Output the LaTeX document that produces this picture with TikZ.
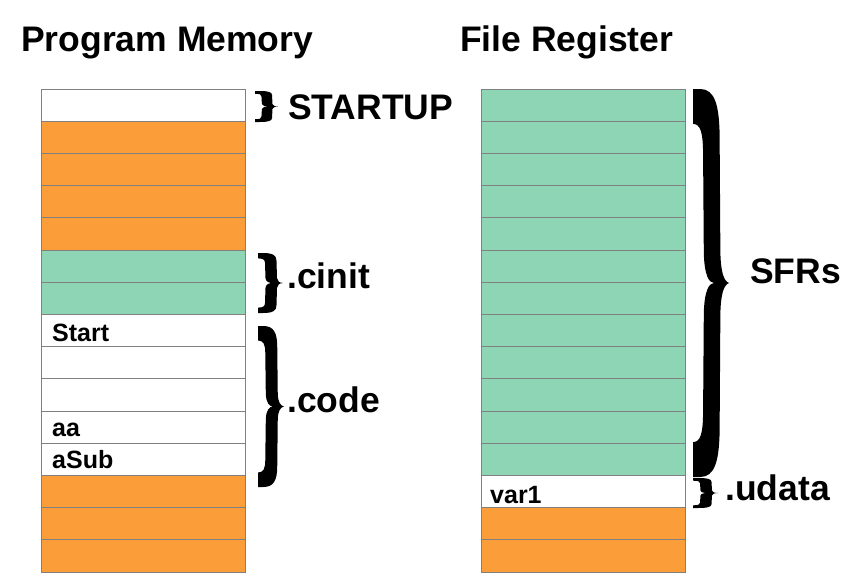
\documentclass[tikz,border=0pt]{standalone}
\usepackage{fontspec}
\setmainfont{Liberation Sans}
\definecolor{memorange}{RGB}{251,157,57}
\definecolor{memgreen}{RGB}{141,213,180}
\definecolor{memline}{RGB}{128,128,128}
\newcommand\membrace[4]{%
  \begin{scope}[shift={(#1,#2)}, xscale=#4, yscale={#3-#2}]
    \fill[black] (0,0) -- (0.2,0) .. controls (0.6,0) and (0.74,0.04) .. (0.74,0.13)
      -- (0.76,0.42) .. controls (0.77,0.47) and (0.85,0.495) .. (1,0.5)
      .. controls (0.85,0.505) and (0.77,0.53) .. (0.76,0.58)
      -- (0.74,0.87) .. controls (0.74,0.96) and (0.6,1) .. (0.2,1) -- (0,1)
      -- (0,0.91) .. controls (0.2,0.91) and (0.28,0.89) .. (0.28,0.83)
      -- (0.3,0.58) .. controls (0.31,0.52) and (0.45,0.5) .. (0.58,0.5)
      .. controls (0.45,0.5) and (0.31,0.48) .. (0.3,0.42)
      -- (0.28,0.17) .. controls (0.28,0.11) and (0.2,0.09) .. (0,0.09) -- cycle;
  \end{scope}}
\begin{document}
\begin{tikzpicture}[x=1pt,y=-1pt,
  cell/.style={draw=memline, line width=1pt, minimum width=204pt, minimum height=32.2pt, inner sep=0pt, outer sep=0pt},
  big/.style={font=\fontsize{35.5}{40}\selectfont\bfseries, inner sep=0pt, anchor=base west},
  small/.style={font=\fontsize{25}{28}\selectfont\bfseries, inner sep=0pt, anchor=base west}]
\useasboundingbox[fill=white] (0,0) rectangle (861,586);
% Program memory column
\foreach \c [count=\i] in {white,memorange,memorange,memorange,memorange,memgreen,memgreen,white,white,white,white,white,memorange,memorange,memorange}{
  \node[cell, fill=\c] (L\i) at (143,{89+32.2*(\i-0.5)}) {};
}
% File register column
\foreach \c [count=\i] in {memgreen,memgreen,memgreen,memgreen,memgreen,memgreen,memgreen,memgreen,memgreen,memgreen,memgreen,memgreen,white,memorange,memorange}{
  \node[cell, fill=\c] (R\i) at (583,{89+32.2*(\i-0.5)}) {};
}
% titles
\node[big] (tpm) at (21,52) {Program Memory};
\node[big] (tfr) at (460,52) {File Register};
% cell labels
\node[small] (lstart) at (52,341) {Start};
\node[small] (laa) at (52,436) {aa};
\node[small] (lasub) at (52,468) {aSub};
\node[small] (lvar) at (490,503) {var1};
% braces
\membrace{255}{91}{122}{23}
\membrace{258}{253}{313}{25}
\membrace{258}{326}{487}{26}
\membrace{693}{89}{477}{36}
\membrace{693}{478}{508}{25}
% section labels
\node[big] (sstartup) at (288,119) {STARTUP};
\node[big] (scinit) at (287,288) {.cinit};
\node[big] (scode) at (287,412) {.code};
\node[big] (ssfr) at (750,283) {SFRs};
\node[big] (sudata) at (725,500) {.udata};
\end{tikzpicture}
\end{document}
